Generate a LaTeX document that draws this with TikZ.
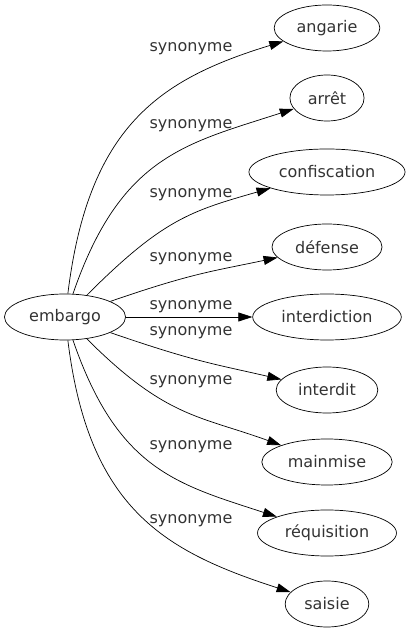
\documentclass[tikz,border=0pt]{standalone}
\usepackage{fontspec}
\setmainfont{DejaVu Sans}
\usetikzlibrary{arrows.meta,shapes.geometric}

\tikzset{
  word/.style={draw, ellipse, line width=0.7pt, inner xsep=7pt, minimum height=46pt,
    text=black!80, font=\fontsize{16}{19}\selectfont},
  syn/.style={-{Triangle[length=14pt,width=9pt]}, line width=0.7pt, out looseness=1.3},
  synlabel/.style={inner sep=0pt, text=black!80, font=\fontsize{16}{19}\selectfont}
}

\begin{document}
\begin{tikzpicture}[x=1pt,y=1pt]
\useasboundingbox (0,0) rectangle (410,635);

\node (embargo) [word] at (65,318) {embargo};

\node (angarie) [word] at (327,607) {angarie};
\node (arret) [word] at (327,537) {arrêt};
\node (confiscation) [word] at (327,463) {confiscation};
\node (defense) [word] at (327,388) {défense};
\node (interdiction) [word] at (327,318) {interdiction};
\node (interdit) [word] at (327,245) {interdit};
\node (mainmise) [word] at (327,173) {mainmise};
\node (requisition) [word] at (327,102) {réquisition};
\node (saisie) [word] at (327,31) {saisie};

\draw [syn] (embargo) to[out=83,in=197] (angarie);
\draw [syn] (embargo) to[out=71,in=198] (arret);
\draw [syn] (embargo) to[out=45,in=196] (confiscation);
\draw [syn] (embargo) to[out=19,in=192] (defense);
\draw [syn] (embargo) -- (interdiction);
\draw [syn] (embargo) to[out=-19,in=167] (interdit);
\draw [syn] (embargo) to[out=-45,in=160] (mainmise);
\draw [syn] (embargo) to[out=-71,in=162] (requisition);
\draw [syn] (embargo) to[out=-83,in=162] (saisie);

\node (l1) [synlabel] at (191,586) {synonyme};
\node (l2) [synlabel] at (191,509) {synonyme};
\node (l3) [synlabel] at (191,440) {synonyme};
\node (l4) [synlabel] at (191,376) {synonyme};
\node (l5) [synlabel] at (191,328) {synonyme};
\node (l6) [synlabel] at (191,302) {synonyme};
\node (l7) [synlabel] at (191,253) {synonyme};
\node (l8) [synlabel] at (191,188) {synonyme};
\node (l9) [synlabel] at (191,114) {synonyme};
\end{tikzpicture}
\end{document}
